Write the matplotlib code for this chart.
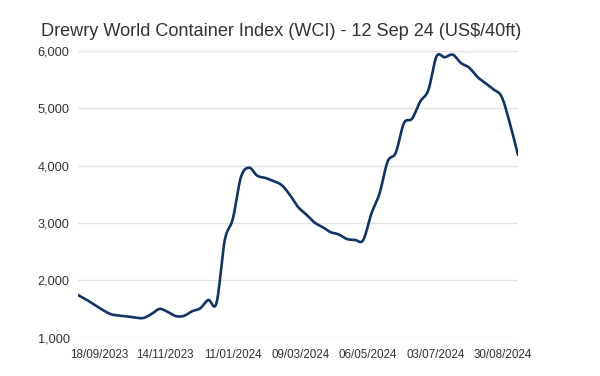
import numpy as np
import pandas as pd
import matplotlib
matplotlib.use("Agg")
import matplotlib.pyplot as plt
import matplotlib.dates as mdates

title = "Drewry World Container Index (WCI) - 12 Sep 24 (US$/40ft)"
start_date = "2023-08-31"
wci = [1743, 1665, 1575, 1485, 1410, 1385, 1370, 1350, 1342, 1410,
       1500, 1450, 1375, 1380, 1460, 1511, 1656, 1605, 2690, 3072,
       3800, 3964, 3824, 3786, 3730, 3660, 3490, 3280, 3150, 3010,
       2930, 2840, 2800, 2720, 2705, 2700, 3160, 3510, 4070, 4226,
       4740, 4820, 5117, 5319, 5905, 5890, 5935, 5790, 5710, 5550,
       5440, 5330, 5200, 4740, 4188]
tick_dates = ["2023-09-18", "2023-11-14", "2024-01-11", "2024-03-09",
              "2024-05-06", "2024-07-03", "2024-08-30"]
y_ticks = [1000, 2000, 3000, 4000, 5000, 6000]

dates = pd.date_range(start_date, periods=len(wci), freq="7D")
x = mdates.date2num(dates.to_pydatetime())
y = np.array(wci, dtype=float)


def catmull_rom(xs, ys, n=20):
    px = np.concatenate([[2 * xs[0] - xs[1]], xs, [2 * xs[-1] - xs[-2]]])
    py = np.concatenate([[2 * ys[0] - ys[1]], ys, [2 * ys[-1] - ys[-2]]])
    ox, oy = [], []
    t = np.linspace(0, 1, n, endpoint=False)
    for i in range(1, len(px) - 2):
        p0, p1, p2, p3 = py[i - 1], py[i], py[i + 1], py[i + 2]
        q0, q1, q2, q3 = px[i - 1], px[i], px[i + 1], px[i + 2]
        def f(a0, a1, a2, a3):
            return 0.5 * ((2 * a1) + (-a0 + a2) * t
                          + (2 * a0 - 5 * a1 + 4 * a2 - a3) * t ** 2
                          + (-a0 + 3 * a1 - 3 * a2 + a3) * t ** 3)
        ox.append(f(q0, q1, q2, q3))
        oy.append(f(p0, p1, p2, p3))
    ox.append([xs[-1]])
    oy.append([ys[-1]])
    return np.concatenate(ox), np.concatenate(oy)


sx, sy = catmull_rom(x, y)

plt.rcParams['font.family'] = ['Liberation Sans', 'DejaVu Sans']
fig = plt.figure(figsize=(6, 3.76), dpi=100)
ax = fig.add_axes([0.13, 0.1021, 0.7333, 0.7623])

ax.plot(sx, sy, color="#0f3566", lw=1.9, solid_capstyle="round", zorder=3)

ax.set_xlim(x[0], x[-1])
ax.set_ylim(1000, 6000)
ax.set_yticks(y_ticks)
ax.set_yticklabels([f"{v:,}" for v in y_ticks])
tk = mdates.date2num(pd.to_datetime(tick_dates).to_pydatetime())
ax.set_xticks(tk)
ax.set_xticklabels([pd.Timestamp(d).strftime("%d/%m/%Y") for d in tick_dates])

ax.grid(axis="y", color="#e3e3e3", lw=1.0, zorder=0)
ax.grid(axis="x", visible=False)
for s in ax.spines.values():
    s.set_visible(False)
ax.tick_params(axis="both", length=0, colors="#333333")
ax.tick_params(axis="y", pad=6, labelsize=9.2)
ax.tick_params(axis="x", pad=8, labelsize=8.4)
ax.set_clip_on(False)

fig.text(0.069, 1 - 31 / 376, title, fontsize=13.1, color="#333333",
         va="center", ha="left")

fig.savefig("out.png", dpi=100)
